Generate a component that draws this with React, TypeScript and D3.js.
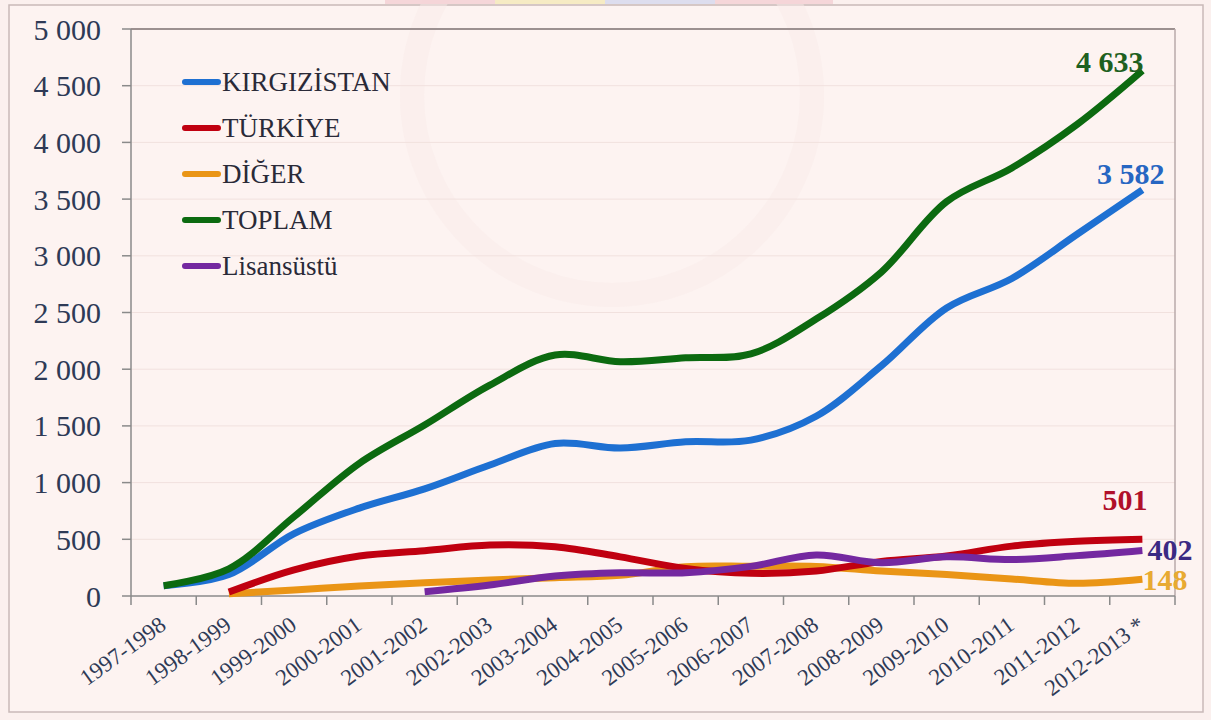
import React from "react";
import * as d3 from "d3";

const categories = [
  "1997-1998", "1998-1999", "1999-2000", "2000-2001", "2001-2002", "2002-2003",
  "2003-2004", "2004-2005", "2005-2006", "2006-2007", "2007-2008", "2008-2009",
  "2009-2010", "2010-2011", "2011-2012", "2012-2013 *",
];

const kirgizistan = [90, 190, 550, 775, 945, 1155, 1345, 1305, 1360, 1375, 1585, 2030, 2540, 2800, 3190, 3582];
const turkiye = [null, 35, 230, 352, 400, 450, 435, 345, 243, 200, 220, 305, 353, 440, 482, 501];
const diger = [null, 20, 53, 88, 117, 141, 162, 182, 258, 262, 260, 220, 190, 150, 112, 148];
const toplam = [90, 240, 700, 1170, 1508, 1860, 2125, 2065, 2100, 2135, 2442, 2857, 3478, 3775, 4159, 4633];
const lisansustu = [null, null, null, null, 38, 97, 176, 205, 205, 261, 362, 293, 346, 321, 356, 402];

const yTicks = [0, 500, 1000, 1500, 2000, 2500, 3000, 3500, 4000, 4500, 5000];

const seriesNames = ["KIRGIZİSTAN", "TÜRKİYE", "DİĞER", "TOPLAM", "Lisansüstü"];

const W = 1211;
const H = 720;
const M = { left: 131, right: 1175, top: 29, bottom: 596 };

const colors = {
  KIRGIZİSTAN: "#1E70D2",
  "TÜRKİYE": "#C00010",
  "DİĞER": "#EA9516",
  TOPLAM: "#0C6A10",
  "Lisansüstü": "#7428A0",
};

const serif = "'Liberation Serif', 'Times New Roman', Times, 'DejaVu Serif', serif";

export default function App() {
  const x = d3.scaleBand<string>().domain(categories).range([M.left, M.right]).padding(0);
  const y = d3.scaleLinear().domain([0, 5000]).range([M.bottom, M.top]);
  const cx = (i: number) => (x(categories[i]) as number) + x.bandwidth() / 2;

  const line = d3
    .line<number | null>()
    .defined((d) => d !== null)
    .x((_, i) => cx(i))
    .y((d) => y(d as number))
    .curve(d3.curveCatmullRom.alpha(0.5));

  const drawOrder: [string, (number | null)[]][] = [
    ["KIRGIZİSTAN", kirgizistan],
    ["DİĞER", diger],
    ["TÜRKİYE", turkiye],
    ["Lisansüstü", lisansustu],
    ["TOPLAM", toplam],
  ];

  const fmt = (v: number) => d3.format(",")(v).replace(/,/g, " ");
  const last = categories.length - 1;

  return (
    <div style={{ position: "fixed", left: 0, top: 0 }}>
      <svg width={W} height={H} style={{ display: "block", fontFamily: serif }}>
        <rect x={0} y={0} width={W} height={H} fill="#FBF0EE" />
        <rect x={9} y={5} width={1194} height={707} fill="#FDF3F1" stroke="#C9B9B8" strokeWidth={1.5} />
        {/* faint watermark */}
        <circle cx={612} cy={95} r={200} fill="none" stroke="#F9ECEA" strokeWidth={24} opacity={0.5} />
        <rect x={385} y={0} width={110} height={4} fill="#F2C4CB" opacity={0.6} />
        <rect x={495} y={0} width={110} height={4} fill="#F3E8A8" opacity={0.6} />
        <rect x={605} y={0} width={110} height={4} fill="#C9D0EE" opacity={0.6} />
        <rect x={715} y={0} width={118} height={4} fill="#F2C4CB" opacity={0.6} />

        {/* gridlines */}
        {yTicks.slice(1, -1).map((t) => (
          <line key={t} x1={M.left} x2={M.right} y1={y(t)} y2={y(t)} stroke="#F1E1DE" strokeWidth={1} />
        ))}
        {/* plot frame */}
        <line x1={M.left} x2={M.right} y1={M.top} y2={M.top} stroke="#9C9090" strokeWidth={2} />
        <line x1={M.right} x2={M.right} y1={M.top} y2={M.bottom} stroke="#B8AAAA" strokeWidth={1.5} />

        {/* y axis */}
        <line x1={M.left} x2={M.left} y1={M.top} y2={M.bottom} stroke="#8A8A8A" strokeWidth={1.5} />
        {yTicks.map((t) => (
          <g key={t}>
            <line x1={M.left - 9} x2={M.left} y1={y(t)} y2={y(t)} stroke="#8A8A8A" strokeWidth={1.5} />
            <text x={101} y={y(t)} dy="0.35em" textAnchor="end" fontSize={30} fill="#2E3A56" fontFamily={serif}>
              {fmt(t)}
            </text>
          </g>
        ))}

        {/* x axis */}
        <line x1={M.left} x2={M.right} y1={M.bottom} y2={M.bottom} stroke="#8A8A8A" strokeWidth={1.5} />
        {d3.range(categories.length + 1).map((i) => {
          const xx = M.left + i * x.bandwidth();
          return <line key={i} x1={xx} x2={xx} y1={M.bottom} y2={M.bottom + 9} stroke="#8A8A8A" strokeWidth={1.5} />;
        })}
        {categories.map((c, i) => (
          <text
            key={c}
            transform={`translate(${cx(i) + 4},${M.bottom + 32}) rotate(-36)`}
            textAnchor="end"
            fontSize={23}
            fill="#2E3A56"
            fontFamily={serif}
          >
            {c}
          </text>
        ))}

        {/* lines */}
        {drawOrder.map(([name, data]) => (
          <path
            key={name}
            d={line(data) as string}
            fill="none"
            stroke={(colors as any)[name]}
            strokeWidth={7}
            strokeLinecap="butt"
            strokeLinejoin="round"
          />
        ))}

        {/* end labels */}
        <g fontFamily={serif} fontSize={30} fontWeight="bold">
          <text x={cx(last) + 1} y={y(toplam[last]) + 1} textAnchor="end" fill="#1E6020">
            {fmt(toplam[last])}
          </text>
          <text x={cx(last) + 22} y={y(kirgizistan[last]) - 6} textAnchor="end" fill="#2766C2">
            {fmt(kirgizistan[last])}
          </text>
          <text x={cx(last) + 5} y={y(turkiye[last] as number) - 29} textAnchor="end" fill="#B0102A">
            {fmt(turkiye[last] as number)}
          </text>
          <text x={cx(last) + 5} y={y(lisansustu[last] as number) + 10} textAnchor="start" fill="#3B2A84">
            {fmt(lisansustu[last] as number)}
          </text>
          <text x={cx(last) + 0} y={y(diger[last] as number) + 11} textAnchor="start" fill="#E8AA32">
            {fmt(diger[last] as number)}
          </text>
        </g>

        {/* legend */}
        {seriesNames.map((n, i) => {
          const ly = 82 + i * 46;
          return (
            <g key={n}>
              <line x1={185} x2={218} y1={ly} y2={ly} stroke={(colors as any)[n]} strokeWidth={6} strokeLinecap="round" />
              <text x={222} y={ly} dy="0.35em" fontSize={27} fill="#2A2A38" fontFamily={serif}>
                {n}
              </text>
            </g>
          );
        })}
      </svg>
    </div>
  );
}
